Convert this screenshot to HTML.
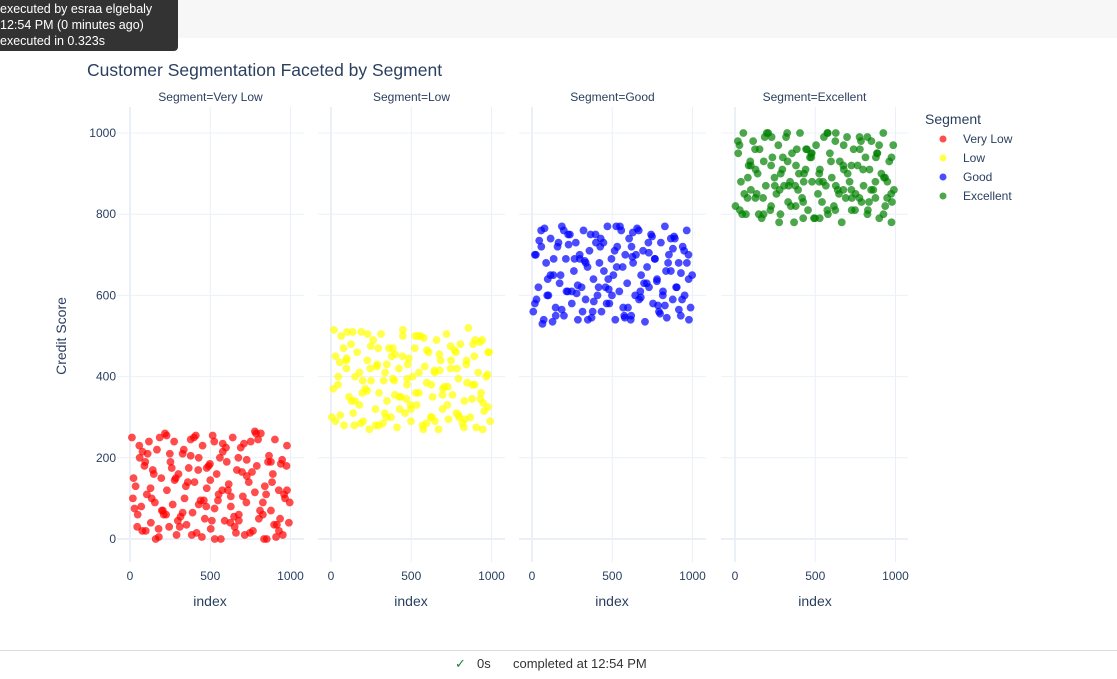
<!DOCTYPE html>
<html><head><meta charset="utf-8"><style>
body{margin:0;width:1117px;height:678px;overflow:hidden;background:#fff;font-family:"Liberation Sans",sans-serif;position:relative}
#top{position:absolute;left:0;top:0;width:1117px;height:38px;background:#f7f7f7}
#tip{position:absolute;left:0;top:0;width:178px;height:50px;background:#333;border-radius:0 0 4px 0;color:#fff;font-size:12.5px;line-height:16px;padding-top:1px}
#foot{position:absolute;left:0;top:650px;width:1117px;height:28px;border-top:1px solid #ddd;font-size:13px;color:#333}
svg{position:absolute;left:0;top:0}
</style></head><body>
<div id="top"></div>
<div id="tip">executed by esraa elgebaly<br>12:54 PM (0 minutes ago)<br>executed in 0.323s</div>
<div id="foot"><span style="position:absolute;left:455px;top:5px;color:#188038">✓</span><span style="position:absolute;left:477px;top:5px">0s</span><span style="position:absolute;left:513px;top:5px">completed at 12:54 PM</span></div>
<svg id="chart" width="1117" height="650"></svg>
<script>
const segments=["Very Low","Low","Good","Excellent"];
const colors=["#ff0000","#ffff00","#0000ff","#008000"];
const yTicks=[0,200,400,600,800,1000];
const xTicks=[0,500,1000];
const idxVL=[12,35,48,60,77,90,105,118,130,142,155,168,180,195,205,218,230,244,252,266,275,290,302,315,328,340,352,366,378,390,402,415,428,440,452,466,478,490,503,515,527,540,552,566,578,590,603,615,628,640,652,666,678,690,703,715,727,740,752,766,778,790,803,815,828,840,852,866,878,890,903,915,927,940,952,966,978,990,22,70,110,160,210,260,310,360,410,460,510,560,610,660,710,760,810,860,910,960,995,500,45,95,135,185,225,285,335,385,425,475,525,575,625,675,725,785,835,885,935,975,18,58,98,148,198,248,298,348,398,448,498,548,598,648,698,748,798,848,898,948,28,78,128,178,228,278,328,378,428,478,528,578,628,678,728,778,828,878,928,978];
const scoreVL=[250,130,60,200,20,180,110,240,40,170,90,220,5,150,70,260,120,30,190,85,240,10,160,55,210,100,35,175,245,65,140,15,200,95,230,50,125,180,25,255,75,160,110,0,215,45,190,135,80,250,30,170,60,225,105,10,195,140,240,20,115,180,50,260,90,130,0,205,70,160,245,35,120,185,10,100,230,40,150,80,210,0,60,175,30,140,255,95,45,200,120,15,235,165,70,190,5,110,90,145,30,190,100,250,60,150,220,10,170,80,240,120,40,200,90,260,0,140,50,180,100,230,20,160,70,210,45,130,250,5,185,95,225,55,165,15,245,110,35,195,75,215,125,25,255,145,65,205,85,175,0,235,105,45,155,265,60,190,20,120];
const idxLow=[5,28,44,63,81,96,112,125,138,150,163,177,189,201,214,226,239,250,263,277,288,299,312,324,337,349,361,374,386,399,411,423,436,448,461,473,485,498,509,522,534,547,559,571,584,596,608,621,633,646,658,670,683,695,707,720,732,745,757,769,782,794,806,819,831,843,856,868,880,893,905,917,930,942,954,967,979,992,15,55,100,145,195,245,295,345,395,445,495,545,595,645,695,745,795,845,895,945,985,470,28,78,128,178,228,278,328,378,428,478,528,578,628,678,728,778,828,878,928,978,45,95,135,185,225,285,335,385,425,475,525,575,625,675,725,785,835,885,935,975,18,58,98,148,198,248,298,348,398,448,498,548,598,648,698,748,798,848,898,948];
const scoreLow=[300,450,380,500,280,420,350,480,310,400,460,330,510,290,370,440,270,390,490,320,430,360,505,285,410,340,470,300,395,455,275,420,350,515,310,380,445,290,400,470,330,360,500,280,425,385,460,300,350,410,490,270,440,320,375,505,295,420,355,465,310,395,480,285,340,430,520,300,380,450,275,410,345,490,315,400,460,290,370,435,510,280,360,420,470,300,390,450,330,500,285,415,355,475,305,440,380,270,460,345,290,470,340,410,505,280,390,450,320,430,360,495,300,415,375,460,275,345,485,325,400,440,510,285,365,425,310,470,350,395,500,270,380,455,330,420,295,480,360,405,515,305,445,340,390,475,280,430,355,500,320,410,465,290,370,440,300,385,490,335];
const idxGood=[8,24,40,57,73,88,102,116,133,147,159,172,186,199,211,223,236,248,261,273,286,297,309,321,334,346,358,371,383,396,408,420,433,445,458,470,482,495,507,519,531,544,556,568,581,593,605,618,630,643,655,667,680,692,704,717,729,742,754,766,779,791,803,816,828,840,853,865,877,890,902,914,927,939,951,964,976,988,18,65,115,165,215,265,315,365,415,465,515,565,615,665,715,765,815,865,915,965,998,620,18,58,98,148,198,248,298,348,398,448,498,548,598,648,698,748,798,848,898,948,28,78,128,178,228,278,328,378,428,478,528,578,628,678,728,778,828,878,928,978,45,95,135,185,225,285,335,385,425,475,525,575,625,675,725,785,835,885,935,975];
const scoreGood=[560,700,620,760,540,680,600,740,650,570,720,630,770,550,690,610,750,580,660,730,540,700,620,760,590,670,710,545,640,750,600,680,560,730,620,770,580,690,650,540,720,610,760,570,700,630,740,550,680,600,765,590,650,710,535,670,620,750,580,690,640,560,730,610,770,545,700,660,590,740,620,680,550,720,600,760,640,570,700,530,650,730,610,690,560,750,620,580,710,670,540,760,630,690,600,740,565,680,650,720,580,720,640,550,760,610,690,540,730,660,600,770,570,700,630,745,555,680,620,710,590,765,535,650,725,605,685,560,740,615,670,545,755,595,705,635,575,715,655,540,735,600,690,565,750,625,680,585,720,640,770,550,695,610,730,575,660,745,590,700];
const idxExc=[3,20,37,52,68,85,99,113,127,141,153,166,179,192,207,220,233,246,258,270,283,295,306,318,331,343,355,368,380,393,405,418,430,443,455,467,480,492,505,517,529,542,554,566,579,591,603,616,628,640,653,665,677,690,702,714,727,739,751,764,776,788,801,813,825,838,850,862,875,887,899,912,924,936,949,961,973,986,30,80,125,175,225,275,325,375,425,475,525,575,625,675,725,775,825,875,925,975,990,440,45,95,135,185,225,285,335,385,425,475,525,575,625,675,725,785,835,885,935,975,28,78,128,178,228,278,328,378,428,478,528,578,628,678,728,778,828,878,928,978,18,58,98,148,198,248,298,348,398,448,498,548,598,648,698,748,798,848,898,948];
const scoreExc=[820,950,880,1000,800,920,860,980,840,900,960,790,930,870,1000,810,940,890,850,970,800,910,870,990,830,880,950,780,920,860,1000,840,900,960,810,940,880,790,970,850,910,830,990,870,800,950,890,820,1000,860,930,780,970,840,900,880,810,960,850,920,990,830,870,940,800,910,980,860,840,950,790,900,1000,820,880,930,850,970,810,890,960,840,920,780,1000,870,830,950,900,810,980,860,920,840,990,880,800,940,860,910,800,930,850,990,820,900,870,960,790,940,880,1000,810,920,860,980,830,950,890,780,970,840,910,800,990,860,930,820,880,950,790,1000,870,910,840,960,810,940,890,830,980,850,920,800,1000,870,940,820,900,960,790,880,930,850,990,810,910,860,970,840];
const idxs=[idxVL,idxLow,idxGood,idxExc];
const scores=[scoreVL,scoreLow,scoreGood,scoreExc];

const NS="http://www.w3.org/2000/svg";
const svg=document.getElementById('chart');
function mk(tag,attrs,parent){const e=document.createElementNS(NS,tag);for(const k in attrs)e.setAttribute(k,attrs[k]);(parent||svg).appendChild(e);return e;}
const panelLeft=[117,318,519,721], panelW=187;
const x0=[130,331,532,735], xSpan=160.5;
function yS(v){return 539-v*0.406;}
function xS(p,v){return x0[p]+v/1000*xSpan;}
const title=mk('text',{x:87,y:76,'font-size':17.5,fill:'#2a3f5f'});title.textContent='Customer Segmentation Faceted by Segment';


const yt=mk('text',{x:0,y:0,'font-size':14,fill:'#2a3f5f','text-anchor':'middle',transform:'translate(66,336) rotate(-90)'});yt.textContent='Credit Score';


yTicks.forEach(t=>{const l=mk('text',{x:116,y:yS(t)+4,'font-size':12,fill:'#2a3f5f','text-anchor':'end'});l.textContent=t;

});
for(let p=0;p<4;p++){
  const g=mk('g',{});
  
  
  yTicks.forEach(t=>mk('line',{x1:panelLeft[p],x2:panelLeft[p]+panelW,y1:yS(t),y2:yS(t),stroke:'#ebf0f8','stroke-width':t===0?2:1},g));
  xTicks.forEach(t=>{mk('line',{x1:xS(p,t),x2:xS(p,t),y1:107,y2:562,stroke:'#ebf0f8','stroke-width':t===0?2:1},g);
    const l=mk('text',{x:xS(p,t),y:580,'font-size':12,fill:'#2a3f5f','text-anchor':'middle'},g);l.textContent=t;
    
    });
  const st=mk('text',{x:panelLeft[p]+panelW/2,y:101,'font-size':12,fill:'#2a3f5f','text-anchor':'middle'},g);st.textContent='Segment='+segments[p];
  
  
  const xt=mk('text',{x:x0[p]+80,y:606,'font-size':14,fill:'#2a3f5f','text-anchor':'middle'},g);xt.textContent='index';
  
  
  const n=Math.min(idxs[p].length,scores[p].length);
  for(let i=0;i<n;i++){
    const c=mk('circle',{cx:xS(p,idxs[p][i]),cy:yS(scores[p][i]),r:3.9,fill:colors[p],'fill-opacity':0.7},g);
    
    
  }
}
const lt=mk('text',{x:925,y:124,'font-size':14,fill:'#2a3f5f'});lt.textContent='Segment';


segments.forEach((s,i)=>{const g=mk('g',{});
  
  
  mk('circle',{cx:943,cy:139+i*19,r:3.5,fill:colors[i],'fill-opacity':0.7},g);
  const t=mk('text',{x:963,y:143+i*19,'font-size':12,fill:'#2a3f5f'},g);t.textContent=s;});
</script>
</body></html>
